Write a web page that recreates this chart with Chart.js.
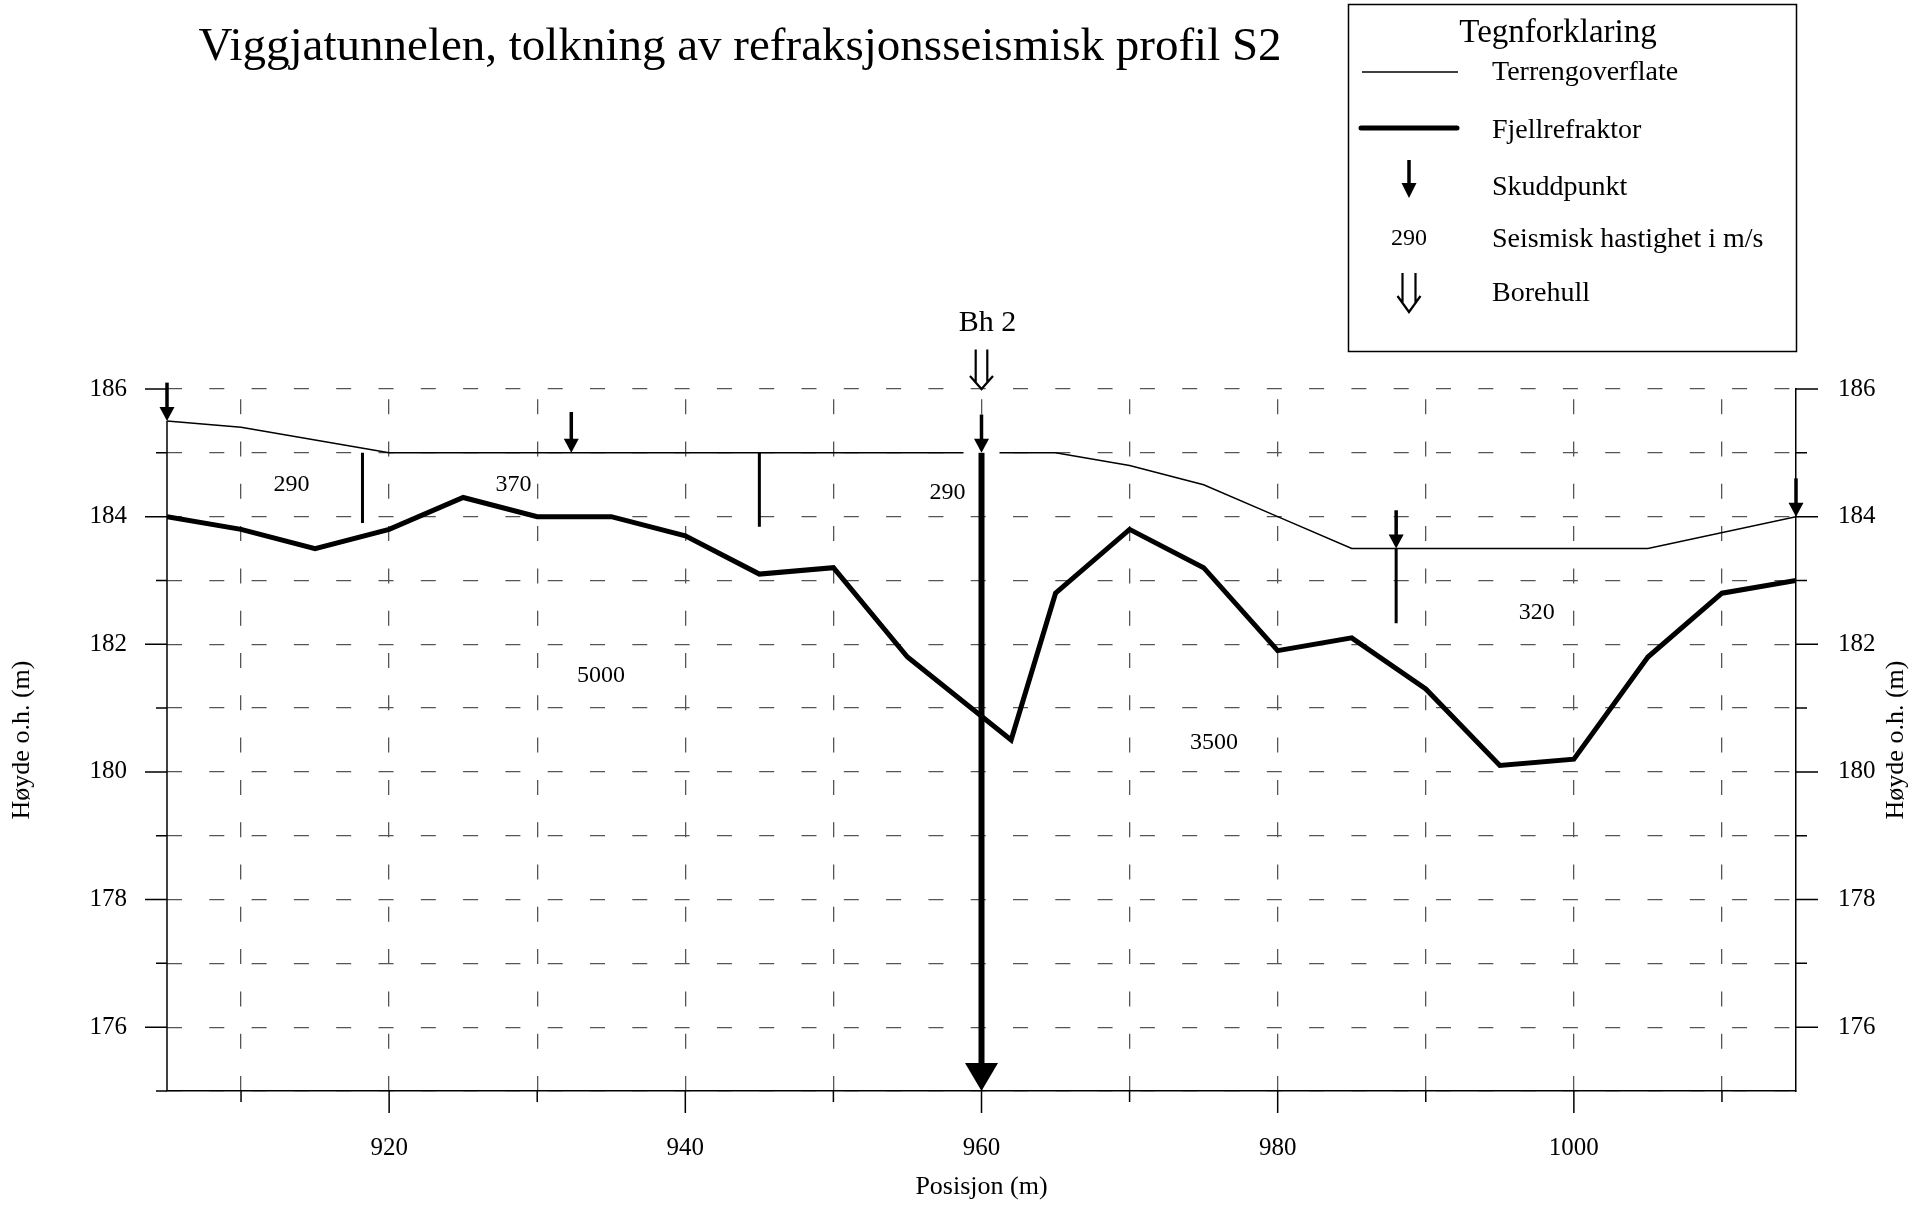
<!DOCTYPE html>
<html>
<head>
<meta charset="utf-8">
<script src="https://cdn.jsdelivr.net/npm/chart.js@4/dist/chart.umd.min.js"></script>
<style>
html,body{margin:0;padding:0;background:#fff;overflow:hidden}
#wrap{position:relative;width:1921px;height:1207px}
canvas{display:block}
</style>
</head>
<body>
<div id="wrap"><canvas id="c" width="1921" height="1207"></canvas></div>
<script>
// ---------------- data ----------------
const terrainX = [905, 910, 920, 965, 970, 975, 980, 985, 1005, 1015];
const terrainY = [185.5, 185.4, 185.0, 185.0, 184.8, 184.5, 184.0, 183.5, 183.5, 184.0];

const bedrockX = [905, 910, 915, 920, 925, 930, 935, 940, 945, 950, 955, 962, 965, 970, 975, 980, 985, 990, 995, 1000, 1005, 1010, 1015];
const bedrockY = [184.0, 183.8, 183.5, 183.8, 184.3, 184.0, 184.0, 183.7, 183.1, 183.2, 181.8, 180.5, 182.8, 183.8, 183.2, 181.9, 182.1, 181.3, 180.1, 180.2, 181.8, 182.8, 183.0];

// velocity boundaries (vertical lines)
const boundaryX = [918.2, 945, 988];
const boundaryTop = [185.0, 185.0, 183.5];
const boundaryBottom = [183.9, 183.84, 182.33];

// shot points (Skuddpunkt)
const shotX = [905, 932.3, 960, 988, 1015];
const shotTop = [186.1, 185.64, 185.6, 184.1, 184.6];
const shotTip = [185.5, 185.0, 185.0, 183.5, 184.0];

// seismic velocities (m/s)
const velocityLabels = ['290', '370', '290', '5000', '3500', '320'];
const velocityX = [913.4, 928.4, 957.7, 934.3, 975.7, 997.5];
const velocityY = [184.5, 184.5, 184.38, 181.5, 180.45, 182.5];

// borehole
const boreholeName = 'Bh 2';
const boreholeX = 960;
const boreholeTop = 185.0;
const boreholeBottom = 175.0;
const boreholeSymbolTop = 186.62;
const boreholeSymbolTip = 186.0;
const boreholeLabelY = 187.04;

// axes
const xMin = 905, xMax = 1015;
const yMin = 175, yMax = 186;
const xTickValues = [910, 920, 930, 940, 950, 960, 970, 980, 990, 1000, 1010];
const xLabelValues = [920, 940, 960, 980, 1000];
const yLabelValues = [176, 178, 180, 182, 184, 186];

const titleText = 'Viggjatunnelen, tolkning av refraksjonsseismisk profil S2';
const xTitle = 'Posisjon (m)';
const yTitle = 'Høyde o.h. (m)';
const legendTitle = 'Tegnforklaring';
const legendItems = ['Terrengoverflate', 'Fjellrefraktor', 'Skuddpunkt', 'Seismisk hastighet i m/s', 'Borehull'];
const legendVelocitySample = '290';

// ---------------- helpers ----------------
const FF = "'Liberation Serif', 'Times New Roman', serif";
const DASH = [15, 27.3];
const DASH_P = DASH[0] + DASH[1];

function solidArrow(ctx, x, yTop, yTip, shaftW, headW, headH) {
  ctx.fillRect(x - shaftW / 2, yTop, shaftW, (yTip - headH) - yTop + 1);
  ctx.beginPath();
  ctx.moveTo(x - headW / 2, yTip - headH);
  ctx.lineTo(x + headW / 2, yTip - headH);
  ctx.lineTo(x, yTip);
  ctx.closePath();
  ctx.fill();
}
function hollowArrow(ctx, x, yTop, yTip, gap, headW, headH, lw) {
  const yMeet = yTip - headH * (gap / (headW / 2));
  ctx.lineWidth = lw;
  ctx.beginPath();
  ctx.moveTo(x - gap, yTop); ctx.lineTo(x - gap, yMeet);
  ctx.moveTo(x + gap, yTop); ctx.lineTo(x + gap, yMeet);
  ctx.moveTo(x - headW / 2, yTip - headH); ctx.lineTo(x, yTip); ctx.lineTo(x + headW / 2, yTip - headH);
  ctx.stroke();
}
const pts = (xs, ys) => xs.map((x, i) => ({x: x, y: ys[i]}));

const datasets = [
  {label: 'Terrengoverflate', data: pts(terrainX, terrainY), borderColor: '#000', borderWidth: 1.5, pointRadius: 0, fill: false, tension: 0},
  {label: 'Fjellrefraktor', data: pts(bedrockX, bedrockY), borderColor: '#000', borderWidth: 5, pointRadius: 0, fill: false, tension: 0}
];
boundaryX.forEach((bx, i) => {
  datasets.push({label: 'grense' + i, data: [{x: bx, y: boundaryTop[i]}, {x: bx, y: boundaryBottom[i]}],
    borderColor: '#000', borderWidth: 3, pointRadius: 0, fill: false});
});

const decor = {
  id: 'decor',
  afterDatasetsDraw(chart) {
    const ctx = chart.ctx;
    const X = v => chart.scales.x.getPixelForValue(v);
    const Y = v => chart.scales.y.getPixelForValue(v);
    ctx.save();
    // white gap behind borehole shot marker
    ctx.fillStyle = '#fff';
    const bx = X(boreholeX);
    ctx.fillRect(bx - 18, Y(boreholeTop) - 2, 36, 5);
    ctx.fillStyle = '#000';
    // shot points
    shotX.forEach((sx, i) => {
      solidArrow(ctx, X(sx), Y(shotTop[i]), Y(shotTip[i]), 3.5, 15, 14);
    });
    // borehole shaft + big head
    solidArrow(ctx, bx, Y(boreholeTop), Y(boreholeBottom), 6, 33, 28);
    // borehole symbol above
    ctx.strokeStyle = '#000';
    hollowArrow(ctx, bx, Y(boreholeSymbolTop), Y(boreholeSymbolTip), 5.8, 23, 13, 2.2);
    ctx.font = '30px ' + FF;
    ctx.textAlign = 'center';
    ctx.textBaseline = 'middle';
    ctx.fillText(boreholeName, X(boreholeX + 0.4), Y(boreholeLabelY));
    // velocity labels
    ctx.font = '24px ' + FF;
    velocityLabels.forEach((t, i) => ctx.fillText(t, X(velocityX[i]), Y(velocityY[i])));
    ctx.restore();
  },
  afterDraw(chart) {
    const ctx = chart.ctx;
    const a = chart.chartArea;
    const X = v => chart.scales.x.getPixelForValue(v);
    const Y = v => chart.scales.y.getPixelForValue(v);
    ctx.save();
    ctx.strokeStyle = '#000';
    ctx.fillStyle = '#000';
    ctx.lineWidth = 1.5;
    // left axis line (from terrain start down)
    ctx.beginPath();
    ctx.moveTo(a.left, Y(terrainY[0]));
    ctx.lineTo(a.left, a.bottom);
    ctx.stroke();
    // y ticks
    ctx.beginPath();
    for (let v = yMin; v <= yMax; v++) {
      const len = (v % 2 === 0) ? 22 : 11;
      const y = Y(v);
      ctx.moveTo(a.left - len, y); ctx.lineTo(a.left, y);
      if (v > yMin) { ctx.moveTo(a.right, y); ctx.lineTo(a.right + len, y); }
    }
    // x ticks
    xTickValues.forEach(v => {
      const len = xLabelValues.includes(v) ? 22 : 11;
      const x = X(v);
      ctx.moveTo(x, a.bottom); ctx.lineTo(x, a.bottom + len);
    });
    ctx.stroke();
    // right axis title
    ctx.font = '26px ' + FF;
    ctx.textAlign = 'center';
    ctx.textBaseline = 'middle';
    ctx.save();
    ctx.translate(1896, (a.top + a.bottom) / 2);
    ctx.rotate(-Math.PI / 2);
    ctx.fillText(yTitle, 0, 0);
    ctx.restore();
    // main title
    ctx.font = '47px ' + FF;
    ctx.fillText(titleText, 740, 48);
    // legend box
    ctx.lineWidth = 1.5;
    ctx.strokeRect(1348.5, 4.5, 448, 347);
    ctx.font = '33px ' + FF;
    ctx.fillText(legendTitle, 1558, 33);
    ctx.beginPath(); ctx.lineWidth = 1.5;
    ctx.moveTo(1362, 72); ctx.lineTo(1458, 72); ctx.stroke();
    ctx.beginPath(); ctx.lineWidth = 5; ctx.lineCap = 'round';
    ctx.moveTo(1361, 128); ctx.lineTo(1457, 128); ctx.stroke();
    ctx.lineCap = 'butt';
    solidArrow(ctx, 1409, 160, 198, 3.5, 15, 15);
    ctx.font = '24px ' + FF;
    ctx.fillText(legendVelocitySample, 1409, 239);
    ctx.strokeStyle = '#000';
    hollowArrow(ctx, 1409, 273, 312, 6.5, 23, 16, 2.2);
    ctx.font = '28px ' + FF;
    ctx.textAlign = 'left';
    const ly = [73, 131, 188, 240, 294];
    legendItems.forEach((t, i) => ctx.fillText(t, 1492, ly[i]));
    ctx.restore();
  }
};

const chart = new Chart(document.getElementById('c'), {
  type: 'line',
  data: {datasets: datasets},
  options: {
    responsive: false,
    animation: false,
    devicePixelRatio: 1,
    parsing: true,
    layout: {padding: {top: 389, left: 0, right: 0, bottom: 0}},
    plugins: {legend: {display: false}, tooltip: {enabled: false}, title: {display: false}},
    elements: {line: {borderJoinStyle: 'miter', borderCapStyle: 'butt'}},
    scales: {
      x: {
        type: 'linear', position: 'bottom', min: xMin, max: xMax,
        afterBuildTicks: s => { s.ticks = xTickValues.map(v => ({value: v})); },
        afterFit: s => { s.height = 116; },
        ticks: {
          autoSkip: false, maxRotation: 0, padding: 42, color: '#000',
          font: {family: FF, size: 25},
          callback: v => xLabelValues.includes(v) ? String(v) : ''
        },
        grid: {color: '#555', lineWidth: 1.3, drawTicks: false},
        border: {
          display: true, color: '#000', width: 1.5, dash: DASH,
          dashOffset: c => {
            const ca = c.chart.chartArea;
            if (!ca) return 0;
            const L = ca.bottom - ca.top;
            return (((DASH[0] - L) % DASH_P) + DASH_P) % DASH_P;
          }
        },
        title: {display: true, text: xTitle, color: '#000', font: {family: FF, size: 26}, padding: {top: 0, bottom: 4}}
      },
      y: {
        type: 'linear', position: 'left', min: yMin, max: yMax,
        afterFit: s => { s.width = 167; },
        ticks: {
          stepSize: 1, autoSkip: false, padding: 40, color: '#000',
          font: {family: FF, size: 25},
          callback: v => yLabelValues.includes(v) ? String(v) : ''
        },
        grid: {color: '#555', lineWidth: 1.3, drawTicks: false},
        border: {display: false, dash: DASH, dashOffset: 0},
        title: {display: true, text: yTitle, color: '#000', font: {family: FF, size: 26}, padding: {top: 7, bottom: 0}}
      },
      y2: {
        type: 'linear', position: 'right', min: yMin, max: yMax,
        afterFit: s => { s.width = 125; },
        ticks: {
          stepSize: 1, autoSkip: false, padding: 42, color: '#000',
          font: {family: FF, size: 25},
          callback: v => yLabelValues.includes(v) ? String(v) : ''
        },
        grid: {display: false, drawOnChartArea: false, drawTicks: false},
        border: {display: true, color: '#000', width: 1.5},
        title: {display: false}
      }
    }
  },
  plugins: [decor]
});
</script>
</body>
</html>
